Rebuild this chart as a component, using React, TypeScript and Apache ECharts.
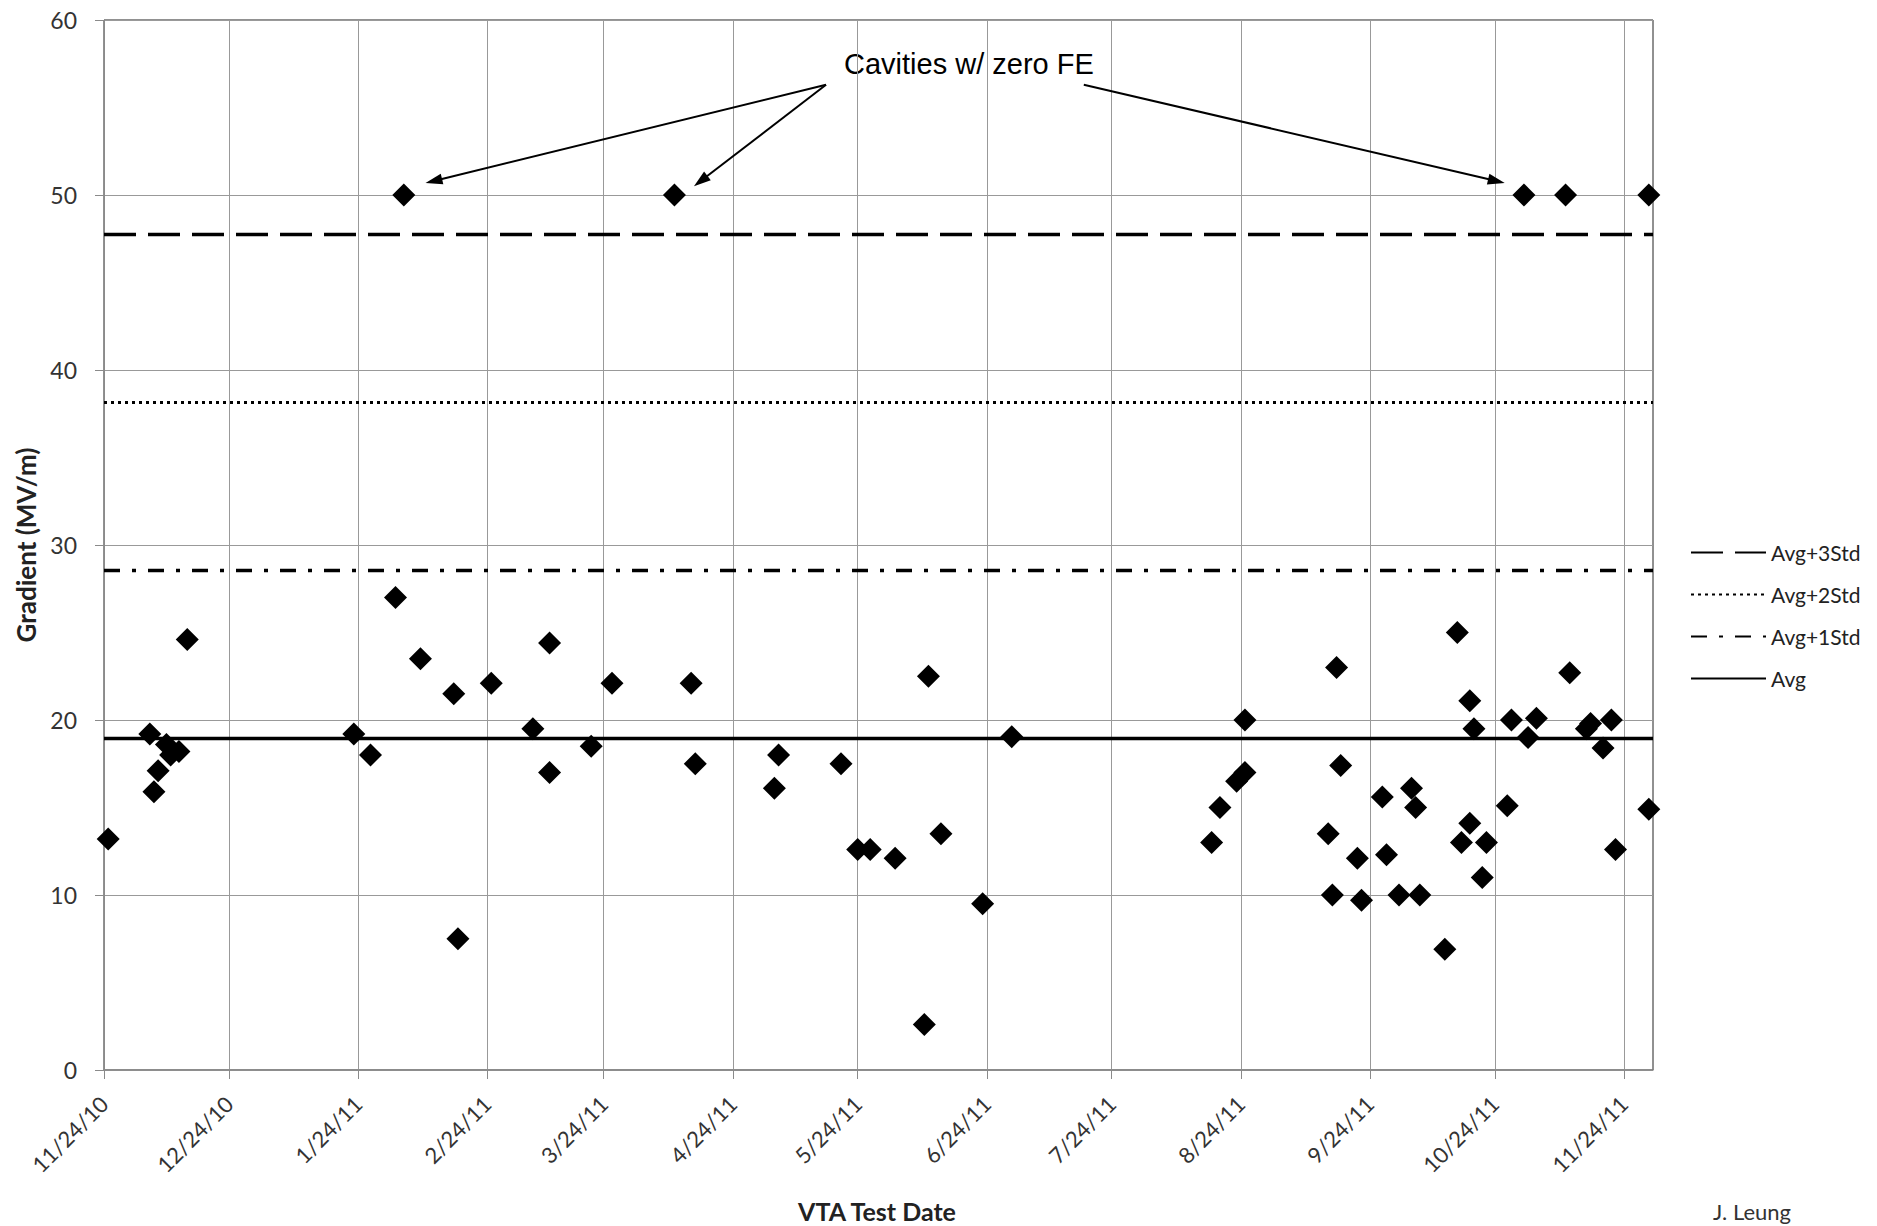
import React, { useEffect, useRef } from "react";
import * as echarts from "echarts";

// ---- data ----
const axisStart = "2010-11-24";
const axisEnd = "2011-12-01";

const tickDates = [
  "2010-11-24", "2010-12-24", "2011-01-24", "2011-02-24", "2011-03-24", "2011-04-24",
  "2011-05-24", "2011-06-24", "2011-07-24", "2011-08-24", "2011-09-24", "2011-10-24", "2011-11-24",
];

const testDates = [
  "2010-11-25", "2010-12-05", "2010-12-06", "2010-12-07", "2010-12-09", "2010-12-10", "2010-12-12", "2010-12-14",
  "2011-01-23", "2011-01-27", "2011-02-02", "2011-02-08", "2011-02-16", "2011-02-17", "2011-02-25",
  "2011-03-07", "2011-03-11", "2011-03-11", "2011-03-21", "2011-03-26",
  "2011-04-14", "2011-04-15", "2011-05-04", "2011-05-05", "2011-05-20", "2011-05-24", "2011-05-27",
  "2011-06-02", "2011-06-10", "2011-06-09", "2011-06-13", "2011-06-23", "2011-06-30",
  "2011-08-17", "2011-08-19", "2011-08-23", "2011-08-25", "2011-08-25",
  "2011-09-14", "2011-09-15", "2011-09-16", "2011-09-17", "2011-09-21", "2011-09-22", "2011-09-27", "2011-09-28",
  "2011-10-01", "2011-10-04", "2011-10-05", "2011-10-06", "2011-10-12", "2011-10-15", "2011-10-16",
  "2011-10-18", "2011-10-18", "2011-10-19", "2011-10-21", "2011-10-22", "2011-10-27", "2011-10-28",
  "2011-11-01", "2011-11-03", "2011-11-11", "2011-11-15", "2011-11-16", "2011-11-19", "2011-11-21", "2011-11-22",
  "2011-11-30",
  "2011-02-04", "2011-04-10", "2011-10-31", "2011-11-10", "2011-11-30",
];

const gradients = [
  13.2, 19.2, 15.9, 17.1, 18.6, 18.0, 18.2, 24.6,
  19.2, 18.0, 27.0, 23.5, 21.5, 7.5, 22.1,
  19.5, 24.4, 17.0, 18.5, 22.1,
  22.1, 17.5, 16.1, 18.0, 17.5, 12.6, 12.6,
  12.1, 22.5, 2.6, 13.5, 9.5, 19.05,
  13.0, 15.0, 16.5, 17.0, 20.0,
  13.5, 10.0, 23.0, 17.4, 12.1, 9.7, 15.6, 12.3,
  10.0, 16.1, 15.0, 10.0, 6.9, 25.0, 13.0,
  21.1, 14.1, 19.5, 11.0, 13.0, 15.1, 20.0,
  19.0, 20.1, 22.7, 19.5, 19.8, 18.4, 20.0, 12.6,
  14.9,
  50, 50, 50, 50, 50,
];

const refNames = ["Avg+3Std", "Avg+2Std", "Avg+1Std", "Avg"];
const refValues = [47.75, 38.15, 28.55, 18.95];

// annotation arrows (in days after axis start, gradient)
const arrowStartDays = [173.4, 173.4, 235.3];
const arrowStartVals = [56.3, 56.3, 56.3];
const arrowEndDays = [79.2, 143.3, 334.4];
const arrowEndVals = [50.8, 50.8, 50.8];

// ---- helpers ----
const ts = (s: string) => {
  const [y, m, d] = s.split("-").map(Number);
  return new Date(y, m - 1, d).getTime();
};
const DAY = 86400000;
const fmtDate = (v: number) => {
  const d = new Date(v);
  return `${d.getMonth() + 1}/${d.getDate()}/${String(d.getFullYear()).slice(2)}`;
};

const LABEL_FONT = "Lato, 'DejaVu Sans', sans-serif";

export default function App() {
  const ref = useRef<HTMLDivElement>(null);

  useEffect(() => {
    if (!ref.current) return;
    const chart = echarts.init(ref.current, null, { renderer: "svg" });
    const xMin = ts(axisStart);
    const xMax = ts(axisEnd);
    const tickTs = tickDates.map(ts);

    const lineStyles = [
      { width: 3.5, type: [32, 12] },
      { width: 3, type: [3, 4] },
      { width: 3.5, type: [16, 12, 4, 12] },
      { width: 3.5, type: "solid" },
    ];

    const refSeries = refNames.map((name, i) => ({
      name,
      type: "line",
      data: [
        [xMin, refValues[i]],
        [xMax, refValues[i]],
      ],
      symbol: "none",
      showSymbol: false,
      lineStyle: { color: "#000", ...lineStyles[i] },
      itemStyle: { color: "#000", opacity: 0 },
      silent: true,
      z: 3,
    }));

    const arrows = arrowStartDays.map((sd, i) => [
      { coord: [xMin + sd * DAY, arrowStartVals[i]] },
      { coord: [xMin + arrowEndDays[i] * DAY, arrowEndVals[i]] },
    ]);

    const option = {
      animation: false,
      grid: {
        left: 104,
        right: 224,
        top: 20,
        bottom: 156,
        show: true,
        borderColor: "#222",
        borderWidth: 1,
        containLabel: false,
        outerBoundsMode: "none",
      },
      legend: {
        orient: "vertical",
        left: 1685,
        top: 537,
        itemWidth: 75,
        itemHeight: 20,
        itemGap: 21,
        selectedMode: false,
        data: refNames,
        textStyle: { fontFamily: LABEL_FONT, fontSize: 21, color: "#222", lineHeight: 20 },
      },
      xAxis: {
        type: "value",
        min: xMin,
        max: xMax,
        axisLine: { show: true, onZero: false, lineStyle: { color: "#8a8a8a", width: 1.5 } },
        axisTick: { show: true, length: 9, customValues: tickTs, lineStyle: { color: "#8a8a8a" } },
        axisLabel: {
          customValues: tickTs,
          rotate: 45,
          margin: 30,
          formatter: (v: number) => fmtDate(v),
          fontFamily: LABEL_FONT,
          fontSize: 22,
          color: "#333",
        },
        splitLine: { show: true, lineStyle: { color: "#999", width: 1 } },
      },
      yAxis: {
        type: "value",
        min: 0,
        max: 60,
        interval: 10,
        axisLine: { show: true, onZero: false, lineStyle: { color: "#8a8a8a", width: 1 } },
        axisTick: { show: true, length: 9, lineStyle: { color: "#8a8a8a" } },
        axisLabel: { margin: 27, fontFamily: LABEL_FONT, fontSize: 23, color: "#333" },
        splitLine: { show: true, lineStyle: { color: "#999", width: 1 } },
      },
      series: [
        ...refSeries,
        {
          name: "Gradient",
          type: "scatter",
          symbol: "diamond",
          symbolSize: 23,
          itemStyle: { color: "#000", opacity: 1 },
          data: testDates.map((d, i) => [ts(d), gradients[i]]),
          z: 5,
          markLine: {
            silent: true,
            symbol: ["none", "triangle"],
            symbolSize: [11, 17],
            label: { show: false },
            lineStyle: { color: "#000", width: 2, type: "solid" },
            emphasis: { disabled: true },
            data: arrows,
          },
        },
      ],
      graphic: [
        {
          type: "text",
          left: 970 - 126,
          top: 66 - 17,
          style: {
            text: "Cavities w/ zero FE",
            font: "29px 'Liberation Sans', Arial, sans-serif",
            fill: "#000",
          },
        },
        {
          type: "text",
          x: 877,
          y: 1211,
          style: {
            text: "VTA Test Date",
            font: `bold 25px ${LABEL_FONT}`,
            fill: "#222",
            textAlign: "center",
            textVerticalAlign: "middle",
          },
        },
        {
          type: "text",
          x: 26,
          y: 545,
          rotation: Math.PI / 2,
          style: {
            text: "Gradient (MV/m)",
            font: `bold 26px ${LABEL_FONT}`,
            fill: "#222",
            textAlign: "center",
            textVerticalAlign: "middle",
          },
        },
        {
          type: "text",
          x: 1752,
          y: 1211,
          style: {
            text: "J. Leung",
            font: `22px ${LABEL_FONT}`,
            fill: "#333",
            textAlign: "center",
            textVerticalAlign: "middle",
          },
        },
      ],
    };

    chart.setOption(option as any);
    return () => chart.dispose();
  }, []);

  return (
    <div
      ref={ref}
      style={{ position: "fixed", left: 0, top: 0, width: 1877, height: 1226, background: "#fff" }}
    />
  );
}
